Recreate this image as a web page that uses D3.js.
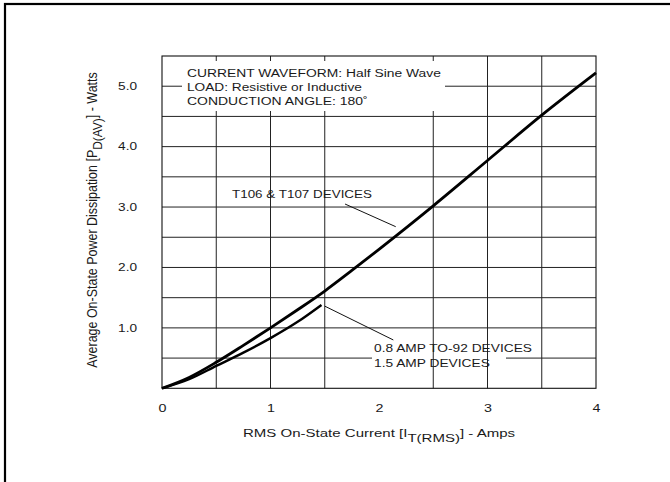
<!DOCTYPE html>
<html>
<head>
<meta charset="utf-8">
<script src="https://cdn.jsdelivr.net/npm/d3@7"></script>
<style>
  html, body { margin: 0; padding: 0; background: #fff; }
  svg { display: block; }
  text { font-family: "Liberation Sans", Arial, sans-serif; fill: #1a1a1a; }
</style>
</head>
<body>
<svg id="chart" width="670" height="482"></svg>
<script>
// ---- data ----
const upperCurrent = [0, 0.25, 0.5, 0.75, 1.0, 1.25, 1.5, 1.75, 2.0, 2.5, 3.0, 3.5, 4.0];
const upperPower   = [0, 0.18, 0.43, 0.71, 1.0, 1.30, 1.61, 1.95, 2.30, 3.02, 3.77, 4.52, 5.22];
const lowerCurrent = [0, 0.25, 0.5, 0.75, 1.0, 1.25, 1.47];
const lowerPower   = [0, 0.15, 0.37, 0.59, 0.83, 1.10, 1.38];

const xTickValues = [0, 1, 2, 3, 4];
const xTickLabels = ["0", "1", "2", "3", "4"];
const yTickValues = [1, 2, 3, 4, 5];
const yTickLabels = ["1.0", "2.0", "3.0", "4.0", "5.0"];
const xGridValues = [0.5, 1, 1.5, 2.5, 3, 3.5];
const yGridValues = [0.5, 1, 1.5, 2, 2.5, 3, 3.5, 4, 4.5, 5];

const boxLines = ["CURRENT WAVEFORM: Half Sine Wave", "LOAD: Resistive or Inductive", "CONDUCTION ANGLE: 180˚"];
const upperLabel = "T106 & T107 DEVICES";
const lowerLabels = ["0.8 AMP TO-92 DEVICES", "1.5 AMP DEVICES"];

// ---- layout ----
const svg = d3.select("#chart");
const x = d3.scaleLinear().domain([0, 4]).range([162, 596]);
const y = d3.scaleLinear().domain([0, 5.5]).range([388.3, 56]);

// stretch helper: fit text to a target width (the reference type is horizontally widened)
function fit(sel, tx, ty, targetW, sy, rot) {
  const w = sel.node().getBBox().width;
  const sx = targetW / w;
  sel.attr("transform", `translate(${tx},${ty}) rotate(${rot || 0}) scale(${sx},${sy || 1})`);
}

// outer frame
svg.append("rect").attr("x", 5).attr("y", 4).attr("width", 720).attr("height", 520)
  .attr("fill", "none").attr("stroke", "#000").attr("stroke-width", 2.2);

// horizontal grid
svg.append("g").selectAll("line").data(yGridValues).join("line")
  .attr("x1", x(0)).attr("x2", x(4))
  .attr("y1", d => y(d)).attr("y2", d => y(d))
  .attr("stroke", "#222").attr("stroke-width", 1);

// gap in the 0.5 W line behind lower labels
svg.append("rect").attr("x", 372).attr("y", y(0.5) - 3).attr("width", 134).attr("height", 6).attr("fill", "#fff");

// vertical grid
svg.append("g").selectAll("line").data(xGridValues).join("line")
  .attr("x1", d => x(d)).attr("x2", d => x(d))
  .attr("y1", y(5.5)).attr("y2", y(0))
  .attr("stroke", "#222").attr("stroke-width", 1);

// white box behind top note
svg.append("rect").attr("x", 182).attr("y", 61).attr("width", 263).attr("height", 50).attr("fill", "#fff");

// plot border
svg.append("rect").attr("x", x(0)).attr("y", y(5.5)).attr("width", x(4) - x(0)).attr("height", y(0) - y(5.5))
  .attr("fill", "none").attr("stroke", "#111").attr("stroke-width", 1.1);

// curves
const line = d3.line().x(d => x(d[0])).y(d => y(d[1])).curve(d3.curveMonotoneX);
const upperData = upperCurrent.map((c, i) => [c, upperPower[i]]);
const lowerData = lowerCurrent.map((c, i) => [c, lowerPower[i]]);
svg.append("path").datum(upperData).attr("d", line)
  .attr("fill", "none").attr("stroke", "#000").attr("stroke-width", 2.8);
svg.append("path").datum(lowerData).attr("d", line)
  .attr("fill", "none").attr("stroke", "#000").attr("stroke-width", 2.4);

// leader lines (data coordinates)
const leaders = [
  [[1.687, 3.05], [2.154, 2.675]],
  [[1.50, 1.36], [2.132, 0.80]]
];
svg.append("g").selectAll("line").data(leaders).join("line")
  .attr("x1", d => x(d[0][0])).attr("y1", d => y(d[0][1]))
  .attr("x2", d => x(d[1][0])).attr("y2", d => y(d[1][1]))
  .attr("stroke", "#111").attr("stroke-width", 1);

// axes (labels only)
const xAxis = d3.axisBottom(x).tickValues(xTickValues).tickFormat((d, i) => xTickLabels[i]).tickSize(0).tickPadding(0);
const gx = svg.append("g").attr("transform", `translate(0,${y(0)})`).call(xAxis);
gx.select(".domain").remove();
gx.selectAll("text").attr("dy", null).attr("y", 24).attr("font-size", 11)
  .attr("font-family", '"Liberation Sans", Arial, sans-serif').attr("fill", "#1a1a1a")
  .attr("transform", "scale(1.3,1)");

const yAxis = d3.axisLeft(y).tickValues(yTickValues).tickFormat((d, i) => yTickLabels[i]).tickSize(0).tickPadding(0);
const gy = svg.append("g").attr("transform", "translate(137,0)").call(yAxis);
gy.select(".domain").remove();
gy.selectAll("text").attr("dy", "0.3em").attr("x", 0).attr("font-size", 11)
  .attr("font-family", '"Liberation Sans", Arial, sans-serif').attr("fill", "#1a1a1a")
  .attr("transform", "scale(1.24,1)");

// top note
const boxTargets = [254, 175, 181];
boxLines.forEach((t, i) => {
  const el = svg.append("text").attr("font-size", 11).text(t);
  fit(el, 187, 77.3 + i * 14, boxTargets[i]);
});

// curve labels
fit(svg.append("text").attr("font-size", 11).text(upperLabel), 232, 198, 140);
fit(svg.append("text").attr("font-size", 11).text(lowerLabels[0]), 374, 351.7, 158);
fit(svg.append("text").attr("font-size", 11).text(lowerLabels[1]), 374, 366.7, 116);

// x axis title
const xt = svg.append("text").attr("font-size", 11).attr("text-anchor", "middle");
xt.append("tspan").text("RMS On-State Current [I");
xt.append("tspan").attr("dy", 5).attr("font-size", 11).text("T(RMS)");
xt.append("tspan").attr("dy", -5).text("] - Amps");
fit(xt, 379, 437.3, 273);

// y axis title
const yt = svg.append("text").attr("font-size", 11.5).attr("text-anchor", "middle");
yt.append("tspan").text("Average On-State Power Dissipation [P");
yt.append("tspan").attr("dy", 4.5).attr("font-size", 11).text("D(AV)");
yt.append("tspan").attr("dy", -4.5).text("] - Watts");
fit(yt, 96.5, 220, 296, 1.2, -90);
</script>
</body>
</html>
